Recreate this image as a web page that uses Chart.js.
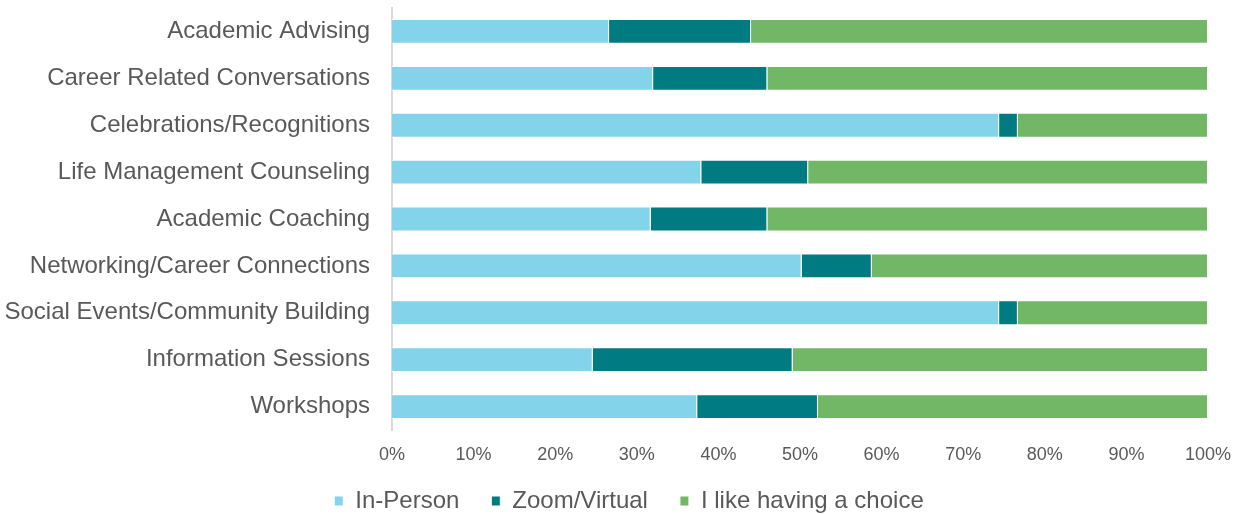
<!DOCTYPE html>
<html>
<head>
<meta charset="utf-8"/>
<style>
  html,body{margin:0;padding:0;background:#fff;}
  .wrap{width:1242px;height:514px;}
</style>
</head>
<body>
<div class="wrap"><canvas id="c" width="1242" height="514"></canvas></div>
<script src="https://cdn.jsdelivr.net/npm/chart.js@4.4.0/dist/chart.umd.min.js"></script>
<script>
const categories = [
  'Academic Advising',
  'Career Related Conversations',
  'Celebrations/Recognitions',
  'Life Management Counseling',
  'Academic Coaching',
  'Networking/Career Connections',
  'Social Events/Community Building',
  'Information Sessions',
  'Workshops'
];
const inPerson = [26.6, 32.0, 74.4, 37.9, 31.7, 50.2, 74.4, 24.6, 37.4];
const zoomVirtual = [17.4, 14.0, 2.3, 13.1, 14.3, 8.6, 2.3, 24.5, 14.8];
const haveChoice = [56.0, 54.0, 23.3, 49.0, 54.0, 41.2, 23.3, 50.9, 47.8];
const xTicks = [0, 10, 20, 30, 40, 50, 60, 70, 80, 90, 100];

Chart.defaults.font.family = "'Liberation Sans', Arial, sans-serif";
Chart.defaults.animation = false;

// labels may spill outside their own axis box (legend sits close under the x axis)
const noClip = s => { s._computeLabelArea = () => null; };

const ds = (label, data, color) => ({
  label, data, backgroundColor: color, borderColor: '#fff', borderWidth: 1,
  barPercentage: 0.53, categoryPercentage: 1
});

new Chart(document.getElementById('c'), {
  type: 'bar',
  data: {
    labels: categories,
    datasets: [
      ds('In-Person', inPerson, '#83D3EB'),
      ds('Zoom/Virtual', zoomVirtual, '#007B82'),
      ds('I like having a choice', haveChoice, '#71B765')
    ]
  },
  options: {
    indexAxis: 'y',
    responsive: false,
    layout: { padding: { top: 8, right: 0, bottom: 0, left: 16 } },
    plugins: {
      tooltip: { enabled: false },
      legend: {
        position: 'bottom',
        maxHeight: 57,
        labels: {
          color: '#595959', font: { size: 24 },
          boxWidth: 9, boxHeight: 10, padding: 32
        }
      }
    },
    scales: {
      x: {
        stacked: true, min: 0, max: 100,
        afterBuildTicks: s => { s.ticks = xTicks.map(v => ({ value: v })); },
        afterFit: s => { s.height = 27; s.paddingLeft = 0; s.paddingRight = 34; noClip(s); },
        grid: { display: false, drawTicks: false },
        border: { display: false },
        ticks: { color: '#595959', font: { size: 18 }, padding: 14, maxRotation: 0, callback: v => v + '%' }
      },
      y: {
        stacked: true,
        afterFit: s => { s.width = 376; s.paddingTop = 0; s.paddingBottom = 0; noClip(s); },
        grid: { display: false, drawTicks: false },
        border: { color: '#D9D9D9', width: 2 },
        ticks: { color: '#595959', font: { size: 24 }, padding: 22 }
      }
    }
  }
});
</script>
</body>
</html>
